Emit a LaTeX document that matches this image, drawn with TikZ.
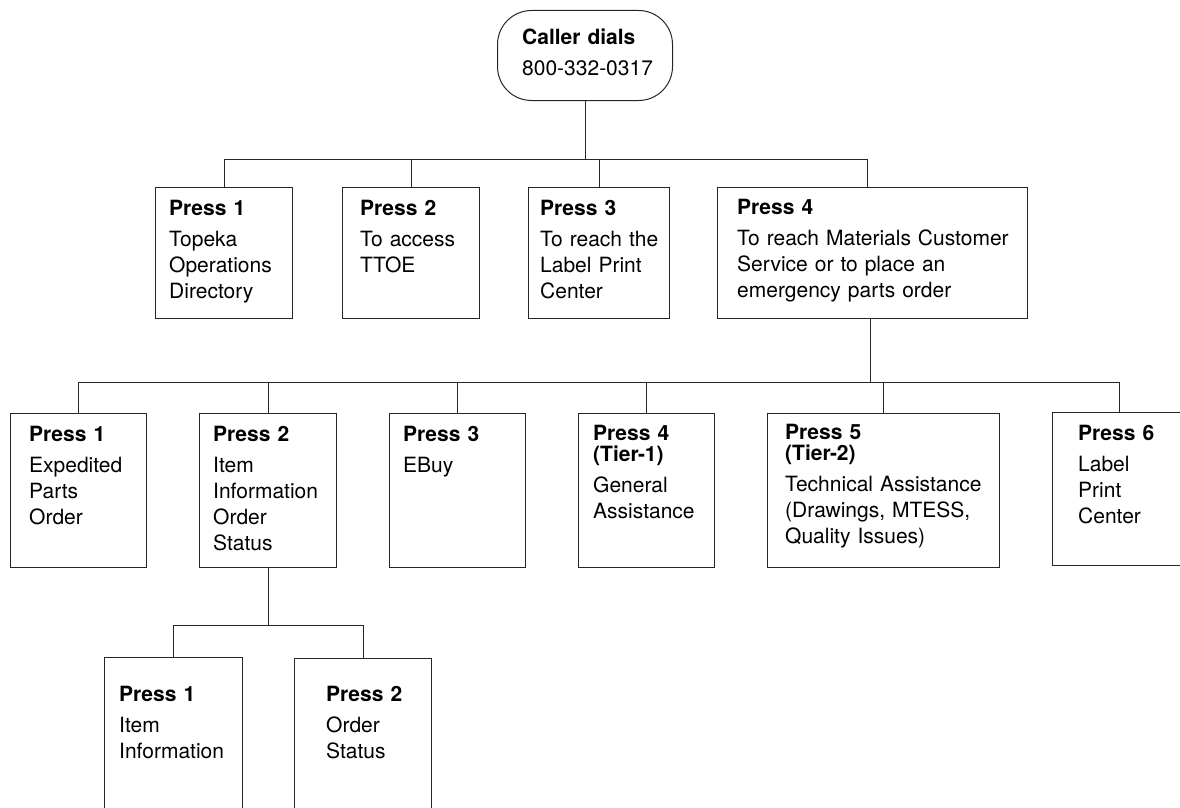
\documentclass[tikz,border=0pt]{standalone}
\usepackage{fontspec}
\setmainfont{TeX Gyre Heros}
\begin{document}
\begin{tikzpicture}[x=1pt,y=-1pt,
  line/.style={draw=black!85,line width=1pt},
  box/.style={line,rectangle,inner sep=0pt,anchor=north west},
  txt/.style={anchor=base west,inner sep=0pt,text width=320pt,align=left,
    font=\fontsize{21}{26}\selectfont}]
\useasboundingbox (0,0) rectangle (1180,808);
\def\gap{\\[5pt]}
% caller
\node[box,rounded corners=34pt,minimum width=175pt,minimum height=90pt] (caller) at (497,10) {};
\node[txt] (callertxt) at ([shift={(25,35)}]caller.north west) {\textbf{Caller dials}\gap 800-332-0317};
% row 1
\node[box,minimum width=137pt,minimum height=131pt] (r1a) at (155,187) {};
\node[box,minimum width=137pt,minimum height=131pt] (r1b) at (342,187) {};
\node[box,minimum width=141pt,minimum height=131pt] (r1c) at (528,187) {};
\node[box,minimum width=310pt,minimum height=131pt] (r1d) at (717,187) {};
\node[txt] (r1at) at ([shift={(14,28)}]r1a.north west) {\textbf{Press 1}\gap Topeka\\Operations\\Directory};
\node[txt] (r1bt) at ([shift={(18,28)}]r1b.north west) {\textbf{Press 2}\gap To access\\TTOE};
\node[txt] (r1ct) at ([shift={(12,28)}]r1c.north west) {\textbf{Press 3}\gap To reach the\\Label Print\\Center};
\node[txt] (r1dt) at ([shift={(20,27)}]r1d.north west) {\textbf{Press 4}\gap To reach Materials Customer\\Service or to place an\\emergency parts order};
\coordinate (bus1) at (0,159);
\draw[line] (caller.south) -- (caller.south |- bus1);
\draw[line] (r1a.north |- bus1) -- ([xshift=-5pt]r1d.north |- bus1);
\draw[line] (r1a.north) -- (r1a.north |- bus1);
\draw[line] (r1b.north) -- (r1b.north |- bus1);
\draw[line] (r1c.north) -- (r1c.north |- bus1);
\draw[line] ([xshift=-5pt]r1d.north) -- ([xshift=-5pt]r1d.north |- bus1);
% row 2
\node[box,minimum width=136pt,minimum height=154pt] (r2a) at (10,413) {};
\node[box,minimum width=137pt,minimum height=154pt] (r2b) at (199,413) {};
\node[box,minimum width=136pt,minimum height=154pt] (r2c) at (389,413) {};
\node[box,minimum width=136pt,minimum height=154pt] (r2d) at (578,413) {};
\node[box,minimum width=232pt,minimum height=154pt] (r2e) at (767,413) {};
\node[box,minimum width=134pt,minimum height=153pt] (r2f) at (1052,412) {};
\node[txt] (r2at) at ([shift={(19,28)}]r2a.north west) {\textbf{Press 1}\gap Expedited\\Parts\\Order};
\node[txt] (r2bt) at ([shift={(14,28)}]r2b.north west) {\textbf{Press 2}\gap Item\\Information\\Order\\Status};
\node[txt] (r2ct) at ([shift={(14,28)}]r2c.north west) {\textbf{Press 3}\gap EBuy};
\node[txt] (r2dt) at ([shift={(15,27)}]r2d.north west) {\textbf{Press 4}\\[-5pt]\textbf{(Tier-1)}\gap General\\Assistance};
\node[txt] (r2et) at ([shift={(18,26)}]r2e.north west) {\textbf{Press 5}\\[-5pt]\textbf{(Tier-2)}\gap Technical Assistance\\(Drawings, MTESS,\\Quality Issues)};
\node[txt] (r2ft) at ([shift={(26,28)}]r2f.north west) {\textbf{Press 6}\gap Label\\Print\\Center};
\coordinate (bus2) at (0,382);
\draw[line] ([xshift=-2pt]r1d.south) -- ([xshift=-2pt]r1d.south |- bus2);
\draw[line] (r2a.north |- bus2) -- (r2f.north |- bus2);
\foreach \n in {r2a,r2b,r2c,r2d,r2e,r2f}
  \draw[line] (\n.north) -- (\n.north |- bus2);
% row 3
\node[box,minimum width=138pt,minimum height=170pt] (r3a) at (104,657) {};
\node[box,minimum width=137pt,minimum height=170pt] (r3b) at (294,658) {};
\node[txt] (r3at) at ([shift={(15,44)}]r3a.north west) {\textbf{Press 1}\gap Item\\Information};
\node[txt] (r3bt) at ([shift={(32,43)}]r3b.north west) {\textbf{Press 2}\gap Order\\Status};
\coordinate (bus3) at (0,625);
\draw[line] (r2b.south) -- (r2b.south |- bus3);
\draw[line] (r3a.north |- bus3) -- (r3b.north |- bus3);
\draw[line] (r3a.north) -- (r3a.north |- bus3);
\draw[line] (r3b.north) -- (r3b.north |- bus3);
\end{tikzpicture}
\end{document}
